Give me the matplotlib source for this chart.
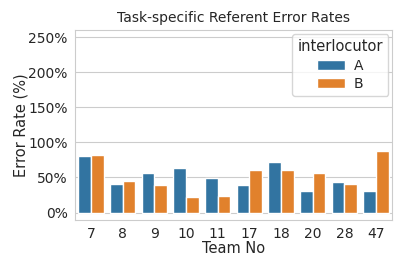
import matplotlib
matplotlib.use("Agg")
import matplotlib.pyplot as plt
import matplotlib.ticker as mtick
import seaborn as sns
import pandas as pd

teams = ["7", "8", "9", "10", "11", "17", "18", "20", "28", "47"]
err_a = [81, 41, 57, 64, 49, 39, 72, 30, 44, 31]
err_b = [82, 45, 39, 22, 24, 61, 61, 56, 40, 88]

df = pd.DataFrame({
    "Team No": teams * 2,
    "Error Rate (%)": err_a + err_b,
    "interlocutor": ["A"] * len(teams) + ["B"] * len(teams),
})

sns.set_style("whitegrid")
plt.rcParams["font.family"] = ["DejaVu Sans"]

fig, ax = plt.subplots(figsize=(4.07, 2.71), dpi=100)
sns.barplot(data=df, x="Team No", y="Error Rate (%)", hue="interlocutor",
            order=teams, palette=["#1f77b4", "#ff7f0e"], ax=ax)

ax.set_ylim(-10, 260)
ax.set_yticks([0, 50, 100, 150, 200, 250])
ax.yaxis.set_major_formatter(mtick.PercentFormatter(decimals=0))
ax.set_title("Task-specific Referent Error Rates", fontsize=10)
ax.set_xlabel("Team No", fontsize=10.5, labelpad=0)
ax.set_ylabel("Error Rate (%)", fontsize=10.5, labelpad=0)
ax.tick_params(labelsize=10, pad=2)
ax.xaxis.grid(False)
ax.legend(title="interlocutor", loc="upper right", fontsize=10, title_fontsize=10.5,
          labelspacing=0.3, borderaxespad=0.25, handletextpad=0.6)

fig.subplots_adjust(left=0.185, right=0.963, top=0.888, bottom=0.19)
fig.savefig("out.png")
